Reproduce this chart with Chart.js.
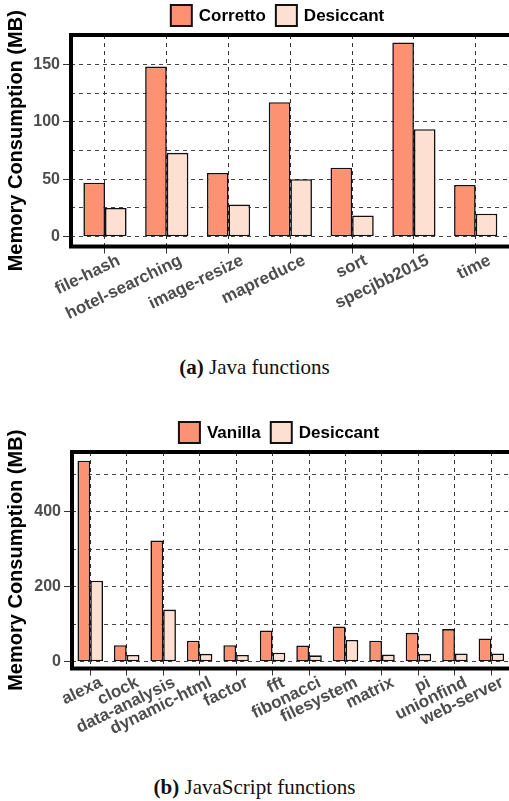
<!DOCTYPE html>
<html>
<head>
<meta charset="utf-8">
<title>Memory consumption</title>
<script src="https://cdn.jsdelivr.net/npm/chart.js@4.4.1/dist/chart.umd.min.js"></script>
<style>
  html, body { margin: 0; padding: 0; background: #fff; width: 509px; height: 801px; overflow: hidden; position: relative; }
  canvas { position: absolute; left: 0; display: block; }
  #javaChart { top: 0; }
  #jsChart { top: 400px; }
  .caption { position: absolute; left: 0; width: 509px; text-align: center;
             font-family: "Liberation Serif", "Times New Roman", serif; font-size: 21px; color: #111; }
</style>
</head>
<body>
<canvas id="javaChart" width="514" height="330"></canvas>
<div class="caption" style="top:355px"><b>(a)</b> Java functions</div>
<canvas id="jsChart" width="514" height="345"></canvas>
<div class="caption" style="top:775px"><b>(b)</b> JavaScript functions</div>

<script>
// ---- Java functions ----
const javaCategories = ['file-hash', 'hotel-searching', 'image-resize', 'mapreduce', 'sort', 'specjbb2015', 'time'];
const javaCorretto   = [47, 148, 55.5, 117, 60, 169, 45];
const javaDesiccant  = [25, 73, 28, 50, 18.5, 93.5, 20];
const javaGridValues = [0, 25, 50, 75, 100, 125, 150];
const javaTickLabels = [0, 50, 100, 150];

// ---- JavaScript functions ----
const jsCategories = ['alexa', 'clock', 'data-analysis', 'dynamic-html', 'factor', 'fft',
                      'fibonacci', 'filesystem', 'matrix', 'pi', 'unionfind', 'web-server'];
const jsVanilla    = [536, 44, 323, 56, 44, 83, 43, 94, 56, 77, 87, 62];
const jsDesiccant  = [216, 18, 139, 21, 18, 24, 17, 58, 19, 21, 22, 22];
const jsGridValues = [0, 100, 200, 300, 400, 500];
const jsTickLabels = [0, 200, 400];

const COLOR_BASE = '#FC9272';
const COLOR_DESICCANT = '#FEE0D2';
const TICK_GREY = '#4D4D4D';
const SANS = '"Liberation Sans", Arial, Helvetica, sans-serif';

Chart.defaults.font.family = SANS;
Chart.defaults.animation = false;

// Thick black rectangle around the plotting panel
const panelFrame = {
  id: 'panelFrame',
  afterDraw(chart, args, opts) {
    const { ctx, chartArea: a } = chart;
    ctx.save();
    ctx.lineWidth = opts.width;
    ctx.strokeStyle = opts.color;
    ctx.strokeRect(a.left, a.top, a.right - a.left, a.bottom - a.top);
    ctx.restore();
  }
};

// Legend with filled, outlined squares placed above the panel
const boxLegend = {
  id: 'boxLegend',
  afterDraw(chart, args, o) {
    const ctx = chart.ctx;
    ctx.save();
    ctx.font = o.font;
    const items = chart.data.datasets.map(ds => ({
      text: ds.label, fill: ds.backgroundColor, w: ctx.measureText(ds.label).width
    }));
    const total = items.reduce((s, it) => s + o.box + o.gap + it.w, 0) + o.spacing * (items.length - 1);
    let x = o.centerX - total / 2;
    items.forEach(it => {
      const top = o.centerY - o.box / 2;
      ctx.fillStyle = it.fill;
      ctx.fillRect(x, top, o.box, o.box);
      ctx.lineWidth = 2;
      ctx.strokeStyle = '#111';
      ctx.strokeRect(x, top, o.box, o.box);
      x += o.box + o.gap;
      ctx.fillStyle = '#000';
      ctx.textBaseline = 'middle';
      ctx.textAlign = 'left';
      ctx.fillText(it.text, x, o.centerY + 1);
      x += it.w + o.spacing;
    });
    ctx.restore();
  }
};

function buildChart(canvasId, cfg) {
  const datasets = cfg.series.map(s => ({
    label: s.label,
    data: cfg.categories.map((c, i) => ({ x: i, y: s.values[i] })),
    backgroundColor: s.color,
    borderColor: '#111',
    borderWidth: 1.6,
    borderSkipped: false,
    categoryPercentage: 0.7,
    barPercentage: 1.0
  }));

  return new Chart(document.getElementById(canvasId), {
    type: 'bar',
    data: { datasets },
    plugins: [panelFrame, boxLegend],
    options: {
      responsive: false,
      layout: { padding: { top: cfg.areaTop, left: 0, right: 0, bottom: 0 } },
      plugins: {
        legend: { display: false },
        tooltip: { enabled: false },
        panelFrame: { width: 4, color: '#000' },
        boxLegend: { font: 'bold 17px ' + SANS, box: 21, gap: 7, spacing: 10,
                     centerX: cfg.legendX, centerY: cfg.legendY }
      },
      scales: {
        x: {
          type: 'linear',
          offset: false,
          min: cfg.xMin,
          max: cfg.xMax,
          afterBuildTicks: ax => { ax.ticks = cfg.categories.map((c, i) => ({ value: i })); },
          afterFit: ax => { ax.height = cfg.xAxisHeight; },
          grid: {
            offset: false,
            color: '#333',
            lineWidth: 1,
            tickLength: 7,
            tickColor: '#333',
            tickBorderDash: [],
            drawOnChartArea: true
          },
          border: { display: false, dash: [4, 4] },
          ticks: {
            autoSkip: false,
            minRotation: 26,
            maxRotation: 26,
            padding: -3,
            labelOffset: cfg.labelOffset,
            color: TICK_GREY,
            font: { size: 17, weight: 'bold' },
            callback: v => cfg.categories[v]
          }
        },
        y: {
          type: 'linear',
          min: cfg.yMin,
          max: cfg.yMax,
          afterBuildTicks: ax => { ax.ticks = cfg.gridValues.map(v => ({ value: v })); },
          afterFit: ax => { ax.width = cfg.areaLeft; },
          grid: {
            color: '#444',
            lineWidth: 1,
            tickLength: 8,
            tickBorderDash: [],
            tickColor: ctx => cfg.tickLabels.includes(ctx.tick.value) ? '#333' : 'rgba(0,0,0,0)'
          },
          border: { display: false, dash: [4, 4] },
          ticks: {
            padding: 3,
            color: TICK_GREY,
            font: { size: 16, weight: 'bold' },
            callback: v => cfg.tickLabels.includes(v) ? String(v) : ''
          },
          title: {
            display: true,
            text: 'Memory Consumption (MB)',
            color: '#000',
            font: { size: 20, weight: 'bold' },
            padding: { top: 4, bottom: 0 }
          }
        }
      }
    }
  });
}

buildChart('javaChart', {
  categories: javaCategories,
  series: [
    { label: 'Corretto', values: javaCorretto, color: COLOR_BASE },
    { label: 'Desiccant', values: javaDesiccant, color: COLOR_DESICCANT }
  ],
  gridValues: javaGridValues,
  tickLabels: javaTickLabels,
  yMin: -8.5, yMax: 175.5,
  xMin: -0.55, xMax: 6.62,
  areaTop: 35, areaLeft: 71, xAxisHeight: 83.5,
  labelOffset: 14,
  legendX: 277.5, legendY: 15.5
});

buildChart('jsChart', {
  categories: jsCategories,
  series: [
    { label: 'Vanilla', values: jsVanilla, color: COLOR_BASE },
    { label: 'Desiccant', values: jsDesiccant, color: COLOR_DESICCANT }
  ],
  gridValues: jsGridValues,
  tickLabels: jsTickLabels,
  yMin: -18, yMax: 559,
  xMin: -0.5, xMax: 11.62,
  areaTop: 52, areaLeft: 72, xAxisHeight: 76.5,
  labelOffset: 11,
  legendX: 279, legendY: 32.5
});
</script>
</body>
</html>
